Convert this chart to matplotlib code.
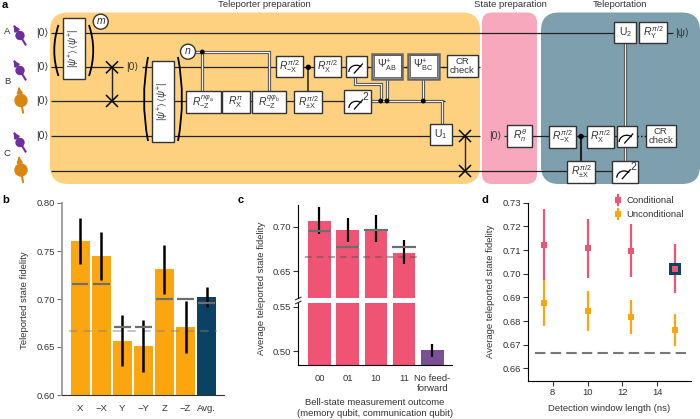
"""Quantum teleportation figure: circuit schematic and fidelity panels."""

import numpy as np
import matplotlib
matplotlib.use("Agg")
import matplotlib.pyplot as plt  # noqa: E402
from matplotlib.patches import Circle, FancyBboxPatch, PathPatch, Polygon, Rectangle  # noqa: E402
from matplotlib.path import Path  # noqa: E402

plt.rcParams["font.family"] = ["Liberation Sans", "DejaVu Sans"]
plt.rcParams["mathtext.fontset"] = "custom"
plt.rcParams["mathtext.rm"] = "Liberation Sans"
plt.rcParams["mathtext.it"] = "Liberation Sans:italic"
plt.rcParams["mathtext.bf"] = "Liberation Sans:bold"
plt.rcParams["mathtext.fallback"] = "stixsans"

TEXT = "#333333"
FS = 6.8
ORANGE = "#FCA60F"
PINK = "#EF5475"
NAVY = "#0B4263"
PURPLE = "#7A4F96"
GREY = "#6E6E6E"
CLASSICAL_BOUND = 2 / 3

# panel b
state_labels = ["X", "\u2212X", "Y", "\u2212Y", "Z", "\u2212Z", "Avg."]
state_fid = [0.760, 0.745, 0.656, 0.651, 0.731, 0.671, 0.702]
state_low = [0.736, 0.720, 0.630, 0.624, 0.705, 0.644, 0.692]
state_high = [0.784, 0.770, 0.683, 0.678, 0.756, 0.698, 0.713]
state_model = [0.716, 0.716, 0.671, 0.671, 0.700, 0.700, 0.696]

# panel c
outcome_labels = ["00", "01", "10", "11", "No feed-\nforward"]
outcome_fid = [0.707, 0.697, 0.698, 0.671, 0.501]
outcome_low = [0.692, 0.683, 0.683, 0.658, 0.494]
outcome_high = [0.722, 0.710, 0.713, 0.685, 0.508]
outcome_model = [0.696, 0.677, 0.697, 0.677]

# panel d
window_ns = [7.5, 10, 12.5, 15]
cond_fid = [0.7120, 0.7107, 0.7098, 0.7022]
cond_low = [0.6975, 0.6980, 0.6985, 0.6920]
cond_high = [0.7272, 0.7233, 0.7210, 0.7127]
uncond_fid = [0.6877, 0.6842, 0.6818, 0.6762]
uncond_low = [0.6780, 0.6760, 0.6747, 0.6695]
uncond_high = [0.6975, 0.6925, 0.6890, 0.6830]

W, H = 700, 419
fig = plt.figure(figsize=(W / 100, H / 100), dpi=100)

sch = fig.add_axes([0, 0, 1, 1], zorder=0)
sch.set_xlim(0, W)
sch.set_ylim(H, 0)
sch.axis("off")


def px_axes(left, top, right, bottom):
    ax = fig.add_axes([left / W, 1 - bottom / H, (right - left) / W, (bottom - top) / H], zorder=2)
    ax.patch.set_alpha(0)
    ax.spines[["top", "right"]].set_visible(False)
    ax.tick_params(labelsize=FS, colors=TEXT, length=3.5, width=0.8, pad=1.5)
    return ax


def wire(x0, x1, y0, y1=None, lw=0.9, color="#222222", z=2):
    y1 = y0 if y1 is None else y1
    sch.plot([x0, x1], [y0, y1], color=color, lw=lw, zorder=z, solid_capstyle="butt")


def classical(xs, ys):
    sch.plot(xs, ys, color="#555555", lw=2.3, zorder=2.2, solid_joinstyle="miter")
    sch.plot(xs, ys, color="#F2F2F2", lw=0.8, zorder=2.3, solid_joinstyle="miter")


def dot(x, y, r=1.7):
    sch.add_patch(Circle((x, y), r, color="black", zorder=2.6))


def gate(x0, y0, x1, y1, label=None, fs=7.5, double=False):
    edge = "#666666" if double else "#333333"
    sch.add_patch(Rectangle((x0, y0), x1 - x0, y1 - y0, fc="white", ec=edge,
                            lw=1.8 if double else 1.0, zorder=3))
    if double:
        sch.add_patch(Rectangle((x0 + 1.5, y0 + 1.5), x1 - x0 - 3, y1 - y0 - 3, fc="white",
                                ec="#333333", lw=0.5, zorder=3.1))
    if label:
        sch.text((x0 + x1) / 2, (y0 + y1) / 2, label, ha="center", va="center", fontsize=fs,
                 color=TEXT, zorder=4, linespacing=1.05)


def meter(x0, y0, x1, y1, squared=False):
    gate(x0, y0, x1, y1)
    cx = x0 + (x1 - x0) * (0.46 if squared else 0.5)
    cy = y1 - 5
    t = np.linspace(np.pi * 0.97, np.pi * 0.3, 20)
    sch.plot(cx + 7.5 * np.cos(t), cy - 7.5 * np.sin(t) * 0.9, color="black", lw=0.9, zorder=4)
    sch.plot([cx - 2, cx + 6], [cy + 1, cy - 8], color="black", lw=0.9, zorder=4)
    if squared:
        sch.text(x1 - 5, y0 + 6, "2", ha="center", va="center", fontsize=7.5, color=TEXT, zorder=4)


def swap(x, y0, y1):
    wire(x, x, y0, y1, lw=1.0, z=2.5)
    for y in (y0, y1):
        sch.plot([x - 5.5, x + 5.5], [y - 5.5, y + 5.5], color="black", lw=1.1, zorder=2.6)
        sch.plot([x - 5.5, x + 5.5], [y + 5.5, y - 5.5], color="black", lw=1.1, zorder=2.6)


def paren(x_tip, x_ctrl, y0, y1):
    path = Path([(x_tip, y0), (x_ctrl, (y0 + y1) / 2), (x_tip, y1)], [Path.MOVETO, Path.CURVE3, Path.CURVE3])
    sch.add_patch(PathPatch(path, fc="none", ec="black", lw=1.3, zorder=2.7))


def ket(x, y, s="|0\u27e9"):
    sch.text(x, y, s, ha="center", va="center", fontsize=7.5, color=TEXT, zorder=4)


def circled(x, y, s):
    sch.add_patch(Circle((x, y), 7.5, fc="white", ec="#333333", lw=1.0, zorder=3))
    sch.text(x, y - 0.5, s, ha="center", va="center", fontsize=7.5, style="italic", color=TEXT, zorder=4)


def spin(x, y, color, r, dx, dy):
    # shaft through the blob, arrow head at the upper end
    sch.plot([x - dx, x + dx], [y - dy, y + dy], color=color, lw=1.5, zorder=2)
    norm = np.hypot(dx, dy)
    ux, uy = dx / norm, dy / norm
    tip = (x - dx, y - dy)
    base = (x - dx + 5 * ux, y - dy + 5 * uy)
    sch.add_patch(Polygon([tip, (base[0] - 2.6 * uy, base[1] + 2.6 * ux),
                           (base[0] + 2.6 * uy, base[1] - 2.6 * ux)], color=color, zorder=2))
    sch.add_patch(Circle((x, y), r, color=color, zorder=2.5))


# backgrounds
for x0, x1, col in [(50, 480, "#FDD17F"), (482, 537, "#F7A8BC"), (541, 700, "#7E9FAE")]:
    rad = 18 if x1 != 537 else 10
    sch.add_patch(FancyBboxPatch((x0, 12.5), x1 - x0, 171.5, boxstyle=f"round,pad=0,rounding_size={rad}",
                                 fc=col, ec="none", zorder=1))

for x, s in [(264, "Teleporter preparation"), (510, "State preparation"), (620, "Teleportation")]:
    sch.text(x, 4.5, s, ha="center", va="center", fontsize=FS, color=TEXT)

for x, y, s in [(2, 4.5, "a"), (2, 200, "b"), (238, 200, "c"), (481, 200, "d")]:
    sch.text(x, y, s, ha="left", va="center", fontsize=8, fontweight="bold", color="black")
for x, y, s in [(7, 32, "A"), (7, 81, "B"), (7, 153, "C")]:
    sch.text(x, y, s, ha="center", va="center", fontsize=FS, color=TEXT)

# qubit icons
for y in (35.5, 70.5, 142.5):
    spin(20, y, "#6F2F9A", 4, 5.5, 9)
for y in (100.5, 170):
    spin(21, y, "#D8860F", 6, 2, 12)

# wires
wire(51, 614, 32.7)
wire(51, 122.7, 67.3)
wire(142, 480, 67.3)
wire(51, 445, 101)
wire(51, 480, 136)
wire(51, 567, 171)
wire(594, 613, 171.5)
wire(504, 507, 136)
wire(532, 549, 136)
wire(666, 673, 32.7)
wire(576, 587, 136.5)
wire(614, 617, 136.5)
for y0, xs in [(67, [(367, 372), (402, 408), (439, 447)]), (136.5, [(637, 646)])]:
    for a, b in xs:
        sch.plot([a, b], [y0, y0], color="black", lw=1.0, ls=(0, (1, 1.6)), zorder=2.5)

for y in (32.7, 67.3, 101, 136):
    ket(42, y)
ket(132, 67.3)
ket(495.7, 136)
ket(682, 32.7, "|\u03c8\u27e9")

# entangling blocks
gate(62.7, 18.3, 85.3, 78.7)
sch.text(74, 48.5, r"$|\psi^{+}\rangle\,\langle\psi^{+}|$", rotation=90, ha="center", va="center",
         fontsize=7, color=TEXT, zorder=4)
paren(58.5, 50, 25, 76)
paren(89, 97.5, 25, 76)
gate(152, 61.3, 174.3, 141.7)
sch.text(163, 101.5, r"$|\psi^{+}\rangle\,\langle\psi^{+}|$", rotation=90, ha="center", va="center",
         fontsize=7, color=TEXT, zorder=4)
paren(148, 140, 57, 141)
paren(178, 186, 57, 141)
circled(100.7, 21.7, "m")
circled(188, 51.7, "n")
swap(112, 67.3, 101)
swap(465, 136, 171)

# classical feed-forward
classical([195, 269, 269], [52, 52, 91])
classical([202.3, 202.3], [52, 91])
dot(202.3, 52)
classical([355, 355, 380.7, 380.7], [78, 84.5, 84.5, 101])
classical([387, 387], [78, 101])
classical([423.3, 423.3], [78, 101])
classical([370, 442.3, 442.3], [101, 101, 124])
for x in (380.7, 387, 423.3):
    dot(x, 101)
wire(308.3, 308.3, 67.3, 91, lw=1.1, z=2.5)
dot(308.3, 67.3, 2)
classical([625.3, 625.3], [43, 126])
classical([625.3, 625.3], [147, 161])
wire(581, 581, 136.5, 161, lw=1.5, z=2.5)
dot(581, 136.5, 2)

# gates
gate(185.7, 91.3, 220.7, 113.3, r"$R^{n\varphi_{\mathrm{a}}}_{-\mathrm{Z}}$")
gate(222.3, 91.3, 249.7, 113.3, r"$R^{\pi}_{\mathrm{X}}$")
gate(251.7, 91.3, 286.3, 113.3, r"$R^{q\varphi_{\mathrm{b}}}_{-\mathrm{Z}}$")
gate(294.3, 91.3, 321.7, 113.3, r"$R^{\pi/2}_{\pm\mathrm{X}}$")
meter(344.3, 90.5, 370.7, 113, squared=True)
gate(275.7, 56, 303.3, 77.3, r"$R^{\pi/2}_{-\mathrm{X}}$")
gate(313.7, 56, 341, 77.3, r"$R^{\pi/2}_{\mathrm{X}}$")
meter(346, 56, 366.7, 77)
gate(372.3, 54, 402.3, 78.7, r"$\Psi^{+}_{\mathrm{AB}}$", double=True)
gate(408.3, 54, 438.7, 78.7, r"$\Psi^{+}_{\mathrm{BC}}$", double=True)
gate(447.3, 55, 477.7, 77, "CR\ncheck", fs=6.8)
gate(430.3, 123.7, 452, 145.3, r"$\mathrm{U}_{1}$")
gate(507, 125, 532.3, 146.7, r"$R^{\theta}_{n}$")
gate(548.7, 126, 576.3, 147.7, r"$R^{\pi/2}_{-\mathrm{X}}$")
gate(586.7, 126, 614, 147.7, r"$R^{\pi/2}_{\mathrm{X}}$")
meter(616.7, 126, 636.7, 147)
gate(645.7, 125.3, 676, 147, "CR\ncheck", fs=6.8)
gate(567.3, 161, 594.7, 182.7, r"$R^{\pi/2}_{\pm\mathrm{X}}$")
meter(612.3, 161, 638.3, 182.7, squared=True)
gate(614.3, 21.7, 636, 43.3, r"$\mathrm{U}_{2}$")
gate(639.3, 21.7, 666.7, 43.3, r"$R^{\pi/2}_{\mathrm{Y}}$")

# panel b
ax_b = px_axes(62, 203, 224, 395)
pos_b = np.arange(len(state_fid))
ax_b.bar(pos_b, state_fid, width=0.9, color=[ORANGE] * 6 + [NAVY], zorder=1)
ax_b.vlines(pos_b, state_low, state_high, color="black", lw=1.8, zorder=3)
ax_b.hlines(state_model, pos_b - 0.4, pos_b + 0.4, color=GREY, lw=1.6, zorder=4)
ax_b.hlines(CLASSICAL_BOUND, -0.51, 6.51, color="#808080", alpha=0.45, lw=1.5, linestyles=(0, (4, 3)), zorder=2)
ax_b.set_xlim(-0.853, 6.82)
ax_b.set_ylim(0.60, 0.80)
ax_b.set_yticks([0.60, 0.65, 0.70, 0.75, 0.80], ["0.60", "0.65", "0.70", "0.75", "0.80"])
ax_b.set_xticks(pos_b, state_labels)
ax_b.tick_params(axis="x", length=0, pad=6.5)
ax_b.tick_params(axis="y", color="#777777")
ax_b.spines["left"].set_color("#999999")
ax_b.spines["left"].set_linewidth(1.3)
ax_b.spines["bottom"].set_color("#333333")
ax_b.set_ylabel("Teleported state fidelity", fontsize=FS, color=TEXT, va="center")
ax_b.yaxis.set_label_coords(25, 300, transform=sch.transData)

# panel c, broken axis
pos_c = np.arange(len(outcome_fid))
ax_c = px_axes(298.3, 205, 451.7, 298)
ax_c0 = px_axes(298.3, 303, 451.7, 364.7)
ax_c.bar(pos_c[:4], outcome_fid[:4], width=0.8, color=PINK, zorder=1)
ax_c0.bar(pos_c, outcome_fid, width=0.8, color=[PINK] * 4 + [PURPLE], zorder=1)
ax_c.vlines(pos_c[:4], outcome_low[:4], outcome_high[:4], color="black", lw=1.6, zorder=3)
ax_c0.vlines(pos_c[4], outcome_low[4], outcome_high[4], color="black", lw=1.6, zorder=3)
ax_c.hlines(outcome_model, pos_c[:4] - 0.42, pos_c[:4] + 0.42, color=GREY, lw=1.6, zorder=4)
ax_c.hlines(CLASSICAL_BOUND, -0.5, 3.5, color="#555555", alpha=0.6, lw=1.2, linestyles=(0, (4, 3)), zorder=2)
ax_c.set_xlim(-0.75, 4.69)
ax_c0.set_xlim(-0.75, 4.69)
ax_c.set_ylim(0.6199, 0.7248)
ax_c0.set_ylim(0.485, 0.5541)
ax_c.set_yticks([0.65, 0.70], ["0.65", "0.70"])
ax_c0.set_yticks([0.50, 0.55], ["0.50", "0.55"])
ax_c.spines["bottom"].set_visible(False)
ax_c.set_xticks([])
ax_c0.set_xticks(pos_c, outcome_labels, linespacing=1.25)
ax_c0.tick_params(axis="x", length=0, pad=6.5)
ax_c0.set_xlabel("Bell-state measurement outcome\n(memory qubit, communication qubit)", fontsize=FS,
                 color=TEXT, linespacing=1.25, va="center")
ax_c0.xaxis.set_label_coords(375, 408, transform=sch.transData)
ax_c.set_ylabel("Average teleported state fidelity", fontsize=FS, color=TEXT, va="center")
ax_c.yaxis.set_label_coords(262, 288, transform=sch.transData)
for y in (298.5, 302.5):
    sch.plot([295.5, 301], [y + 1.3, y - 1.3], color="#333333", lw=0.8, zorder=3)

# panel d
ax_d = px_axes(528.3, 202.7, 690.7, 380.7)
ax_d.vlines(window_ns, cond_low, cond_high, color=PINK, lw=1.6, zorder=2)
ax_d.vlines(window_ns, uncond_low, uncond_high, color=ORANGE, lw=1.6, zorder=2)
ax_d.plot(window_ns[-1], cond_fid[-1], "s", ms=8.4, mew=0, color=NAVY, zorder=3)
ax_d.plot(window_ns, cond_fid, "s", ms=4, mew=0, color=PINK, zorder=4, ls="none")
ax_d.plot(window_ns, uncond_fid, "s", ms=4, mew=0, color=ORANGE, zorder=4, ls="none")
ax_d.hlines(CLASSICAL_BOUND, 7, 15.7, color="#777777", lw=1.5, linestyles=(0, (5, 2.5)), zorder=1)
ax_d.set_xlim(6.6, 15.91)
ax_d.set_ylim(0.6548, 0.73)
ax_d.set_xticks([8, 10, 12, 14])
ax_d.set_yticks(np.arange(0.66, 0.735, 0.01), [f"{v:.2f}" for v in np.arange(0.66, 0.735, 0.01)])
ax_d.set_xlabel("Detection window length (ns)", fontsize=FS, color=TEXT, va="center")
ax_d.xaxis.set_label_coords(609, 408, transform=sch.transData)
ax_d.set_ylabel("Average teleported state fidelity", fontsize=FS, color=TEXT, va="center")
ax_d.yaxis.set_label_coords(490.7, 291, transform=sch.transData)

for y, col, s in [(200, PINK, "Conditional"), (214, ORANGE, "Unconditional")]:
    sch.plot([617.7, 617.7], [y - 5, y + 5], color=col, lw=1.6, zorder=3)
    sch.plot(617.7, y, "s", ms=4, mew=0, color=col, zorder=3)
    sch.text(626.7, y, s, ha="left", va="center", fontsize=FS, color=TEXT)

fig.savefig("out.png", dpi=100)
plt.close(fig)
